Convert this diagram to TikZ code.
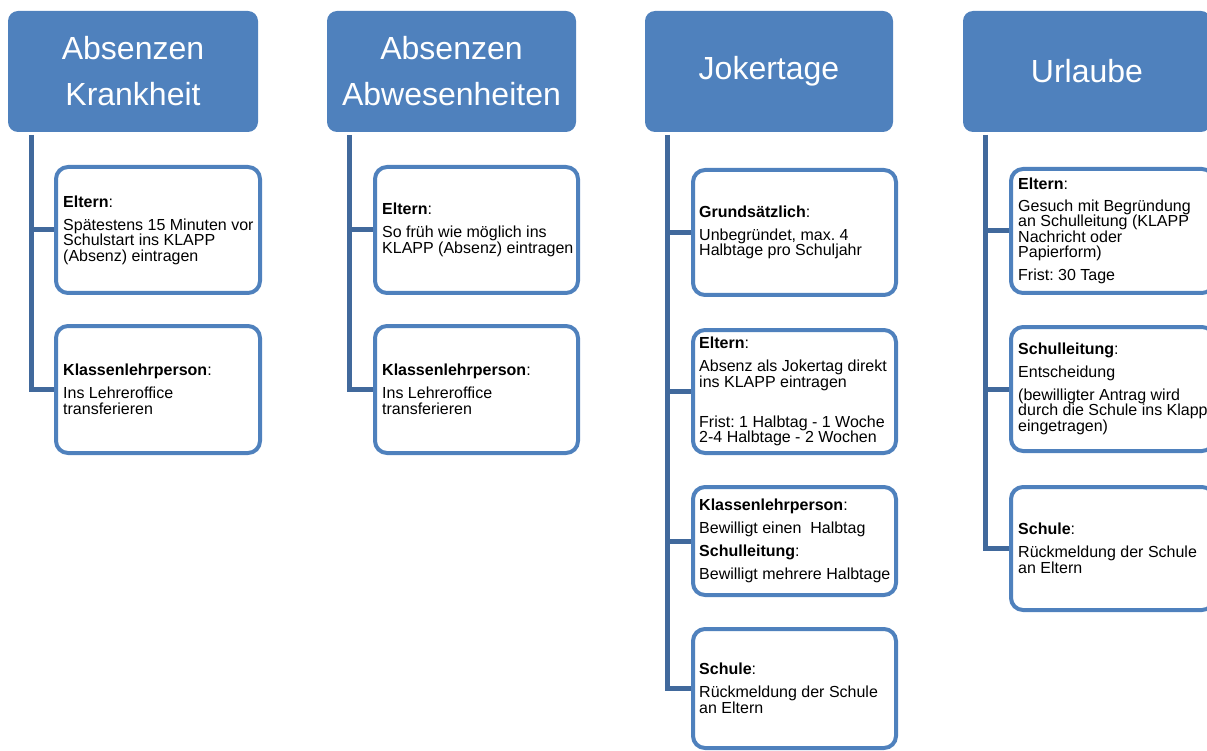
\documentclass[tikz,border=0pt]{standalone}
\usepackage{fontspec}
\setmainfont{Liberation Sans}
\frenchspacing
\definecolor{hdrblue}{HTML}{4F81BD}
\definecolor{brdblue}{HTML}{4F81BD}
\definecolor{trkblue}{HTML}{41699C}
\begin{document}
\begin{tikzpicture}[x=1pt,y=-1pt,
  hdrbox/.style={fill=hdrblue, rounded corners=10pt, text=white, align=center,
    font=\fontsize{32}{46}\selectfont, inner sep=0pt},
  subbox/.style={draw=brdblue, line width=4pt, rounded corners=12pt, fill=white, inner sep=0pt},
  txt/.style={anchor=west, align=left, font=\fontsize{16}{15.5}\selectfont, inner sep=0pt},
  trunk/.style={draw=trkblue, line width=5pt}]
\useasboundingbox (0,0) rectangle (1207,751);

% headers
\node[hdrbox, minimum width=250pt, minimum height=121pt] (h1) at (133,71.5) {Absenzen\\Krankheit};
\node[hdrbox, minimum width=249pt, minimum height=121pt] (h2) at (451.5,71.5) {Absenzen\\Abwesenheiten};
\node[hdrbox, minimum width=248pt, minimum height=121pt] (h3) at (769,71.5) {Jokertage};
\node[hdrbox, minimum width=248pt, minimum height=121pt] (h4) at (1087,71.5) {Urlaube};

% column 1
\node[subbox, minimum width=204pt, minimum height=126pt] (b11) at (158,230) {};
\node[subbox, minimum width=204pt, minimum height=127pt] (b12) at (158,389.5) {};
% column 2
\node[subbox, minimum width=203pt, minimum height=126pt] (b21) at (476.5,230) {};
\node[subbox, minimum width=203pt, minimum height=127pt] (b22) at (476.5,389.5) {};
% column 3
\node[subbox, minimum width=203pt, minimum height=125pt] (b31) at (794.5,232.5) {};
\node[subbox, minimum width=203pt, minimum height=123pt] (b32) at (794.5,391.5) {};
\node[subbox, minimum width=203pt, minimum height=108pt] (b33) at (794.5,541) {};
\node[subbox, minimum width=203pt, minimum height=119pt] (b34) at (794.5,688.5) {};
% column 4
\node[subbox, minimum width=203pt, minimum height=124pt] (b41) at (1112.5,231) {};
\node[subbox, minimum width=203pt, minimum height=124pt] (b42) at (1112.5,389) {};
\node[subbox, minimum width=203pt, minimum height=123pt] (b43) at (1112.5,548.5) {};

% texts
\node[txt] (x11) at ([xshift=9pt]b11.west) {\textbf{Eltern}:\\[7.5pt]Spätestens 15 Minuten vor\\Schulstart ins KLAPP\\(Absenz) eintragen};
\node[txt] (x12) at ([xshift=9pt]b12.west) {\textbf{Klassenlehrperson}:\\[7.5pt]Ins Lehreroffice\\transferieren};
\node[txt] (x21) at ([xshift=9pt]b21.west) {\textbf{Eltern}:\\[7.5pt]So früh wie möglich ins\\KLAPP (Absenz) eintragen};
\node[txt] (x22) at ([xshift=9pt]b22.west) {\textbf{Klassenlehrperson}:\\[7.5pt]Ins Lehreroffice\\transferieren};
\node[txt] (x31) at ([xshift=8pt]b31.west) {\textbf{Grundsätzlich}:\\[7.5pt]Unbegründet, max. 4\\Halbtage pro Schuljahr};
\node[txt] (x32) at ([xshift=8pt]b32.west) {\textbf{Eltern}:\\[7.5pt]Absenz als Jokertag direkt\\ins KLAPP eintragen\\[24.5pt]Frist: 1 Halbtag - 1 Woche\\2-4 Halbtage - 2 Wochen};
\node[txt] (x33) at ([xshift=8pt]b33.west) {\textbf{Klassenlehrperson}:\\[7.5pt]Bewilligt einen\ \ Halbtag\\[7.5pt]\textbf{Schulleitung}:\\[7.5pt]Bewilligt mehrere Halbtage};
\node[txt] (x34) at ([xshift=8pt]b34.west) {\textbf{Schule}:\\[7.5pt]Rückmeldung der Schule\\an Eltern};
\node[txt] (x41) at ([xshift=9pt]b41.west) {\textbf{Eltern}:\\[6pt]Gesuch mit Begründung\\an Schulleitung (KLAPP\\Nachricht oder\\Papierform)\\[7.5pt]Frist: 30 Tage};
\node[txt] (x42) at ([xshift=9pt]b42.west) {\textbf{Schulleitung}:\\[7.5pt]Entscheidung\\[7pt](bewilligter Antrag wird\\durch die Schule ins Klapp\\eingetragen)};
\node[txt] (x43) at ([xshift=9pt]b43.west) {\textbf{Schule}:\\[7.5pt]Rückmeldung der Schule\\an Eltern};

% trunks
\coordinate (t1) at (31,135);
\coordinate (t2) at (349,135);
\coordinate (t3) at (667,135);
\coordinate (t4) at (985,135);
\draw[trunk] (t1) |- (b12.west);
\draw[trunk] (t1 |- b11.west) -- (b11.west);
\draw[trunk] (t2) |- (b22.west);
\draw[trunk] (t2 |- b21.west) -- (b21.west);
\draw[trunk] (t3) |- (b34.west);
\draw[trunk] (t3 |- b31.west) -- (b31.west);
\draw[trunk] (t3 |- b32.west) -- (b32.west);
\draw[trunk] (t3 |- b33.west) -- (b33.west);
\draw[trunk] (t4) |- (b43.west);
\draw[trunk] (t4 |- b41.west) -- (b41.west);
\draw[trunk] (t4 |- b42.west) -- (b42.west);
\end{tikzpicture}
\end{document}
